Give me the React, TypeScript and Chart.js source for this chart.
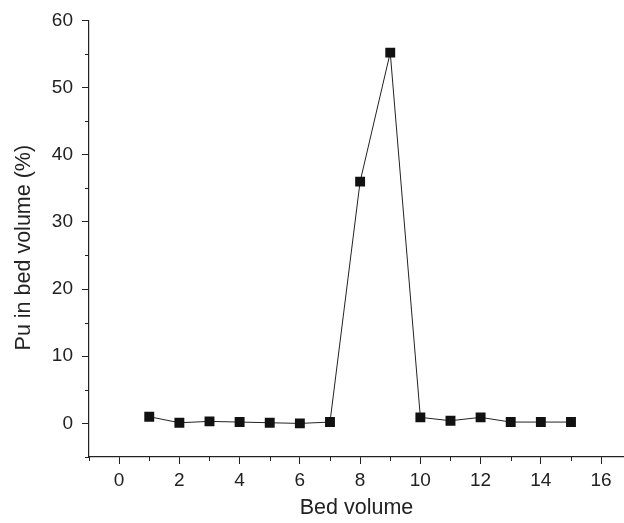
import React, { useEffect, useRef } from "react";
import { Chart, registerables } from "chart.js";

Chart.register(...registerables);

const bedVolume = [1, 2, 3, 4, 5, 6, 7, 8, 9, 10, 11, 12, 13, 14, 15];
const puPercent = [1.0, 0.1, 0.3, 0.2, 0.1, 0.0, 0.2, 36.0, 55.2, 0.9, 0.4, 0.9, 0.2, 0.2, 0.2];
const xTickValues = [-1, 0, 1, 2, 3, 4, 5, 6, 7, 8, 9, 10, 11, 12, 13, 14, 15, 16];
const yTickValues = [-5, 0, 5, 10, 15, 20, 25, 30, 35, 40, 45, 50, 55, 60];
const xTitle = "Bed volume";
const yTitle = "Pu in bed volume (%)";

const FONT = 'Arial, "Liberation Sans", sans-serif';
const INK = "#222";

const minorTicks = {
  id: "minorTicks",
  afterDraw(chart: any) {
    const ctx = chart.ctx;
    const xs = chart.scales.x;
    const ys = chart.scales.y;
    ctx.save();
    ctx.strokeStyle = INK;
    ctx.lineWidth = 1;
    ctx.beginPath();
    xTickValues.forEach((v) => {
      if (v % 2 !== 0) {
        const px = Math.round(xs.getPixelForValue(v)) + 0.5;
        ctx.moveTo(px, xs.top);
        ctx.lineTo(px, xs.top + 4);
      }
    });
    yTickValues.forEach((v) => {
      if (v % 10 !== 0) {
        const py = Math.round(ys.getPixelForValue(v)) + 0.5;
        ctx.moveTo(ys.right, py);
        ctx.lineTo(ys.right - 4, py);
      }
    });
    ctx.stroke();
    ctx.restore();
  },
};

export default function App() {
  const ref = useRef<HTMLCanvasElement>(null);
  useEffect(() => {
    if (!ref.current) return;
    const chart = new Chart(ref.current, {
      type: "line",
      data: {
        datasets: [
          {
            data: bedVolume.map((x, i) => ({ x, y: puPercent[i] })),
            borderColor: INK,
            borderWidth: 1,
            backgroundColor: "#111",
            pointStyle: "rect",
            pointRadius: 7,
            pointBorderWidth: 0,
            pointBackgroundColor: "#111",
            tension: 0,
          },
        ],
      },
      plugins: [minorTicks],
      options: {
        responsive: false,
        animation: false,
        layout: { autoPadding: false, padding: { top: 20, right: 0, left: 0, bottom: 0 } },
        plugins: { legend: { display: false }, tooltip: { enabled: false } },
        scales: {
          x: {
            type: "linear",
            min: -1,
            max: 16.76,
            afterBuildTicks: (scale: any) => {
              scale.ticks = xTickValues.map((v) => ({ value: v }));
            },
            afterFit: (scale: any) => {
              scale.height = 66;
            },
            grid: {
              drawOnChartArea: false,
              drawTicks: true,
              tickLength: 7,
              color: (c: any) => (c.tick && c.tick.value % 2 === 0 ? INK : "rgba(0,0,0,0)"),
            },
            border: { display: true, color: INK, width: 1.2 },
            ticks: {
              autoSkip: false,
              maxRotation: 0,
              padding: 5,
              color: INK,
              font: { family: FONT, size: 19 },
              callback: (v: any) => (v % 2 === 0 && v >= 0 ? String(v) : ""),
            },
            title: {
              display: true,
              text: xTitle,
              color: INK,
              font: { family: FONT, size: 21.5 },
              padding: { top: 4, bottom: 2 },
            },
          },
          y: {
            type: "linear",
            min: -5,
            max: 60,
            afterBuildTicks: (scale: any) => {
              scale.ticks = yTickValues.map((v) => ({ value: v }));
            },
            afterFit: (scale: any) => {
              scale.width = 89;
            },
            grid: {
              drawOnChartArea: false,
              drawTicks: true,
              tickLength: 7,
              color: (c: any) => (c.tick && c.tick.value % 10 === 0 ? INK : "rgba(0,0,0,0)"),
            },
            border: { display: true, color: INK, width: 1.2 },
            ticks: {
              autoSkip: false,
              padding: 9,
              color: INK,
              font: { family: FONT, size: 19 },
              callback: (v: any) => (v % 10 === 0 ? String(v) : ""),
            },
            title: {
              display: true,
              text: yTitle + "   ",
              color: INK,
              font: { family: FONT, size: 21.5 },
              padding: { top: 11, bottom: 4 },
            },
          },
        },
      },
    });
    return () => chart.destroy();
  }, []);
  return (
    <div style={{ position: "absolute", left: 0, top: 0, width: 624, height: 523 }}>
      <canvas ref={ref} width={624} height={523} style={{ width: 624, height: 523 }} />
    </div>
  );
}
